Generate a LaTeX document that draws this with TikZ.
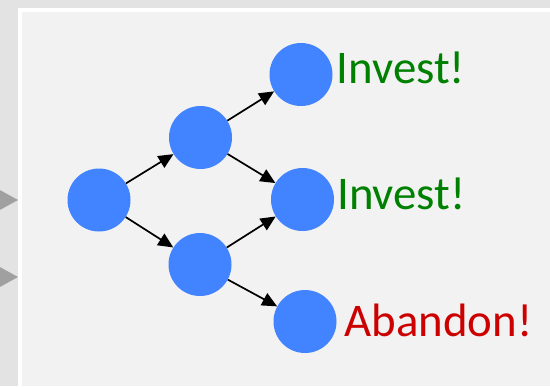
\documentclass[tikz,border=0pt]{standalone}
\usepackage{fontspec}
\setmainfont{Carlito}
\usetikzlibrary{arrows.meta}

\definecolor{pagegray}{RGB}{227,227,227}
\definecolor{panelgray}{RGB}{242,242,242}
\definecolor{tipgray}{RGB}{160,160,160}
\definecolor{stateblue}{RGB}{66,131,255}
\definecolor{goodgreen}{RGB}{0,128,0}
\definecolor{badred}{RGB}{204,0,0}

\tikzset{
  state/.style={circle, fill=stateblue, minimum size=63bp, inner sep=0pt},
  move/.style={line width=1.7bp, arrows={-Triangle[length=15bp,width=13.5bp]}},
  verdict/.style={anchor=base west, inner sep=0pt, font=\fontsize{47}{56}\selectfont}
}

\begin{document}
\begin{tikzpicture}[x=1bp, y=-1bp]
  \useasboundingbox (0,0) rectangle (550,386);
  % slide background and panel
  \fill[pagegray] (0,0) rectangle (550,386);
  \fill[white] (18,8) rectangle (550,386);
  \fill[panelgray] (22,12) rectangle (550,386);
  \fill[tipgray] (-2,189) -- (18,200) -- (-2,211) -- cycle;
  \fill[tipgray] (-2,266) -- (18,277) -- (-2,288) -- cycle;

  % the tree of states
  \node[state] (root) at (99,200) {};
  \node[state] (up)   at (200.5,137.5) {};
  \node[state] (down) at (200,264.5) {};
  \node[state] (top)  at (301,74.5) {};
  \node[state] (mid)  at (302.5,199.5) {};
  \node[state] (bot)  at (305,321.5) {};

  \draw[move] (root) -- (up);
  \draw[move] (root) -- (down);
  \draw[move] (up) -- (top);
  \draw[move] (up) -- (mid);
  \draw[move] (down) -- (mid);
  \draw[move] (down) -- (bot);

  \node[verdict, text=goodgreen] (topword) at (336.5,83.3) {Invest!};
  \node[verdict, text=goodgreen] (midword) at (337,209.3) {Invest!};
  \node[verdict, text=badred]    (botword) at (344.5,336) {Abandon!};
\end{tikzpicture}
\end{document}
